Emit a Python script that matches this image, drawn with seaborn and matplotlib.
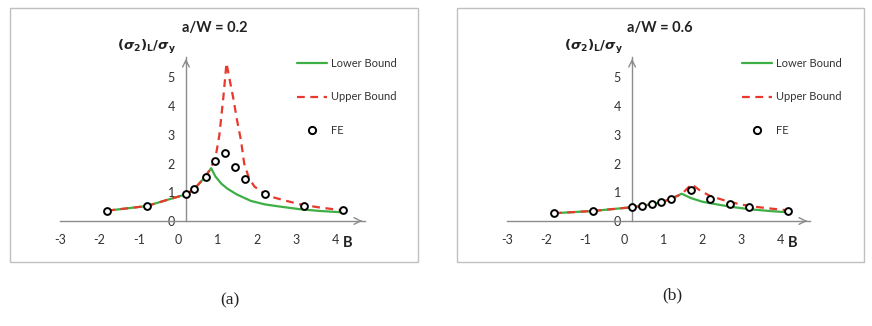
import matplotlib
matplotlib.use("Agg")
import matplotlib.pyplot as plt
import seaborn as sns
import pandas as pd
from matplotlib.patches import Rectangle
from matplotlib.lines import Line2D

# ---------------- data ----------------
# panel (a): a/W = 0.2
a_lower_x = [-1.8, -0.8, 0.2, 0.4, 0.7, 0.84, 0.95, 1.1, 1.26, 1.5, 1.85, 2.2, 2.6, 3.1, 3.6, 4.2]
a_lower_y = [0.36, 0.52, 0.93, 1.10, 1.55, 1.84, 1.55, 1.30, 1.12, 0.92, 0.70, 0.58, 0.50, 0.41, 0.35, 0.30]
a_upper_x = [-1.8, -0.8, 0.2, 0.4, 0.7, 0.84, 0.95, 1.05, 1.15, 1.23, 1.3, 1.4, 1.5, 1.6, 1.68, 1.8, 1.94, 2.27, 2.7, 3.1, 3.6, 4.2]
a_upper_y = [0.36, 0.52, 0.93, 1.10, 1.55, 1.88, 2.2, 3.0, 4.3, 5.5, 5.0, 4.3, 3.5, 2.8, 2.0, 1.5, 1.2, 0.88, 0.72, 0.58, 0.47, 0.37]
a_fe_x = [-1.8, -0.8, 0.2, 0.4, 0.7, 0.95, 1.2, 1.45, 1.7, 2.2, 3.2, 4.2]
a_fe_y = [0.36, 0.52, 0.93, 1.10, 1.55, 2.10, 2.38, 1.87, 1.47, 0.95, 0.52, 0.37]

# panel (b): a/W = 0.6
b_lower_x = [-1.8, -0.8, 0.2, 0.45, 0.7, 0.95, 1.2, 1.47, 1.7, 2.0, 2.2, 2.7, 3.2, 3.7, 4.2]
b_lower_y = [0.27, 0.35, 0.48, 0.52, 0.59, 0.65, 0.78, 0.95, 0.80, 0.67, 0.62, 0.50, 0.41, 0.35, 0.30]
b_upper_x = [-1.8, -0.8, 0.2, 0.45, 0.7, 0.95, 1.2, 1.47, 1.72, 1.95, 2.2, 2.7, 3.2, 3.7, 4.2]
b_upper_y = [0.27, 0.35, 0.48, 0.52, 0.59, 0.65, 0.78, 0.94, 1.28, 1.05, 0.87, 0.66, 0.52, 0.44, 0.37]
b_fe_x = [-1.8, -0.8, 0.2, 0.45, 0.7, 0.95, 1.2, 1.7, 2.2, 2.7, 3.2, 4.2]
b_fe_y = [0.27, 0.35, 0.48, 0.52, 0.59, 0.65, 0.78, 1.09, 0.77, 0.60, 0.49, 0.34]

titles = ["a/W = 0.2", "a/W = 0.6"]
panel_labels = ["(a)", "(b)"]
x_ticks = [-3, -2, -1, 0, 1, 2, 3, 4]
y_ticks = [0, 1, 2, 3, 4, 5]
series_labels = ["Lower Bound", "Upper Bound", "FE"]

# ---------------- style ----------------
sns.set_style("white")
plt.rcParams["font.family"] = ["Lato", "DejaVu Sans"]
plt.rcParams["axes.unicode_minus"] = False
plt.rcParams["mathtext.fontset"] = "dejavusans"

GREEN = "#3daf45"
RED = "#e8392c"
AXGRAY = "#8c8c8c"
TXT = "#333333"

fig = plt.figure(figsize=(8.72, 3.26), dpi=100)

# panel frames
fig.patches.append(Rectangle((10 / 872, 1 - 262 / 326), 408 / 872, 254 / 326,
                             transform=fig.transFigure, fill=False, ec="#c0c0c0", lw=1))
fig.patches.append(Rectangle((457 / 872, 1 - 262 / 326), 407 / 872, 254 / 326,
                             transform=fig.transFigure, fill=False, ec="#c0c0c0", lw=1))

axes_pos = [
    [60 / 872, 1 - 221 / 326, 305 / 872, 163.6 / 326],
    [507 / 872, 1 - 221 / 326, 303 / 872, 163.6 / 326],
]

panels = [
    (a_lower_x, a_lower_y, a_upper_x, a_upper_y, a_fe_x, a_fe_y),
    (b_lower_x, b_lower_y, b_upper_x, b_upper_y, b_fe_x, b_fe_y),
]

ylabel = r"$\mathbf{(}\boldsymbol{\sigma}_{\mathbf{2}}\mathbf{)}_{\mathbf{L}}\mathbf{/}\boldsymbol{\sigma}_{\mathbf{y}}$"

for i, (lx, ly, ux, uy, fx, fy) in enumerate(panels):
    ax = fig.add_axes(axes_pos[i])
    ax.set_facecolor("none")
    df_l = pd.DataFrame({"x": lx, "y": ly})
    df_u = pd.DataFrame({"x": ux, "y": uy})
    df_f = pd.DataFrame({"x": fx, "y": fy})
    sns.lineplot(data=df_l, x="x", y="y", ax=ax, color=GREEN, linewidth=1.6,
                 sort=False, estimator=None, zorder=3)
    sns.lineplot(data=df_u, x="x", y="y", ax=ax, color=RED, linewidth=1.6,
                 sort=False, estimator=None, zorder=4)
    ax.lines[-1].set_dashes((3.5, 2.5))
    sns.scatterplot(data=df_f, x="x", y="y", ax=ax, marker="o", s=24,
                    facecolor="white", edgecolor="black", linewidth=1.4, zorder=5)
    for coll in ax.collections:
        coll.set_clip_on(False)
    for ln in ax.lines:
        ln.set_clip_on(False)

    ax.set_xlim(-3, 4.75)
    ax.set_ylim(0, 5.7)
    ax.set_xticks(x_ticks)
    ax.set_yticks(y_ticks)
    ax.set_xlabel("")
    ax.set_ylabel("")
    for s in ["top", "right"]:
        ax.spines[s].set_visible(False)
    ax.spines["bottom"].set_position(("data", 0))
    ax.spines["left"].set_position(("data", 0.2))
    for s in ["bottom", "left"]:
        ax.spines[s].set_color(AXGRAY)
        ax.spines[s].set_linewidth(1.0)
    ax.tick_params(axis="both", direction="out", length=3, width=1, color=AXGRAY,
                   labelsize=9, labelcolor=TXT)
    ax.tick_params(axis="x", pad=6)
    ax.tick_params(axis="y", pad=5)
    ax.annotate("", xy=(4.75, 0), xytext=(4.55, 0),
                arrowprops=dict(arrowstyle="->", color=AXGRAY, lw=1.0, mutation_scale=12),
                annotation_clip=False)
    ax.annotate("", xy=(0.2, 5.75), xytext=(0.2, 5.4),
                arrowprops=dict(arrowstyle="->", color=AXGRAY, lw=1.0, mutation_scale=12),
                annotation_clip=False)

    ax.text(0.92, 6.72, titles[i], ha="center", va="center", fontsize=10.5,
            fontweight="bold", color="#222222", clip_on=False)
    ax.text(-1.55, 6.06, ylabel, ha="left", va="center", fontsize=9.5,
            color="#222222", clip_on=False)
    ax.text(4.3, -0.77, "B", ha="center", va="center", fontsize=10.5,
            fontweight="bold", color="#222222", clip_on=False)

    handles = [
        Line2D([], [], color=GREEN, lw=1.6),
        Line2D([], [], color=RED, lw=1.6, dashes=(3.5, 2.5)),
        Line2D([], [], color="none", marker="o", markersize=5.2,
               markerfacecolor="white", markeredgecolor="black", markeredgewidth=1.4),
    ]
    leg = ax.legend(handles, series_labels, loc="upper left",
                    bbox_to_anchor=(0.777, 0.995), frameon=False, fontsize=8,
                    labelspacing=2.0, handlelength=2.7, handletextpad=0.35,
                    borderpad=0, borderaxespad=0)
    for t in leg.get_texts():
        t.set_color(TXT)

fig.text(230 / 872, 1 - 300 / 326, panel_labels[0], ha="center", va="center",
         fontsize=12.5, family="Liberation Serif", color="#222222")
fig.text(672 / 872, 1 - 295 / 326, panel_labels[1], ha="center", va="center",
         fontsize=12.5, family="Liberation Serif", color="#222222")

fig.savefig("out.png", dpi=100)
